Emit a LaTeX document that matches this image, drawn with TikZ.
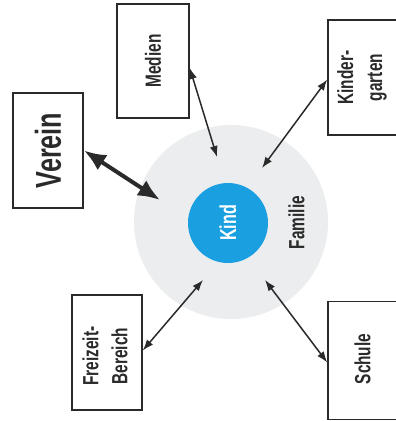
\documentclass[tikz,border=0pt]{standalone}
\usepackage{fontspec}
\newfontfamily\cnd[FakeStretch=0.7]{Liberation Sans}
\usetikzlibrary{arrows.meta}
\definecolor{famgray}{HTML}{EBEDEE}
\definecolor{kindblue}{HTML}{1AA0E0}
\definecolor{ink}{HTML}{2A2A2A}
\begin{document}
\begin{tikzpicture}[x=1pt,y=-1pt,
  boxnode/.style={draw=ink,line width=1.5pt,inner sep=0pt},
  lbl/.style={rotate=90,align=center,inner sep=0pt,text=ink,
    font=\cnd\bfseries\fontsize{22}{29}\selectfont},
  rel/.style={ink,line width=1.5pt,{Latex[length=11pt,width=8pt]}-{Latex[length=11pt,width=8pt]}},
  strongrel/.style={ink,line width=4pt,{Latex[length=22pt,width=18pt]}-{Latex[length=22pt,width=18pt]}}]
\useasboundingbox (0,0) rectangle (396,421);
\clip (0,0) rectangle (396,421);
\fill[white] (0,0) rectangle (396,421);

% family circle with the child in the middle
\node[circle,fill=famgray,minimum size=194pt,inner sep=0pt] (familie) at (231,222) {};
\node[circle,fill=kindblue,minimum size=80pt,inner sep=0pt] (kind) at (228,223) {};
\node[lbl,text=white,font=\cnd\bfseries\fontsize{23}{29}\selectfont] (kindT) at (kind) {Kind};
\node[lbl] (familieT) at (296.5,222.5) {Familie};

% surrounding boxes
\node[boxnode,line width=2pt,minimum width=70pt,minimum height=115pt] (verein) at (48,150.5) {};
\node[lbl,font=\cnd\bfseries\fontsize{36}{40}\selectfont] (vereinT) at (verein) {Verein};

\node[boxnode,minimum width=72pt,minimum height=114pt] (medien) at (153,61) {};
\node[lbl] (medienT) at (medien) {Medien};

\node[boxnode,minimum width=72pt,minimum height=115pt] (kiga) at (364,77.5) {};
\node[lbl] (kigaT) at (362,77.5) {Kinder-\\garten};

\node[boxnode,minimum width=70pt,minimum height=115pt] (freizeit) at (107,352.5) {};
\node[lbl] (freizeitT) at (105,356) {Freizeit-\\Bereich};

\node[boxnode,minimum width=72pt,minimum height=118pt] (schule) at (364,360.5) {};
\node[lbl] (schuleT) at (362.5,359) {Schule};

% inner ends of the relations
\coordinate (vIn) at (160,200);
\coordinate (mIn) at (217,157);
\coordinate (kIn) at (262,168);
\coordinate (fIn) at (203,280);
\coordinate (sIn) at (265,280);

\draw[strongrel] (verein.east) -- (vIn);
\draw[rel] ([yshift=-7pt]medien.east) -- (mIn);
\draw[rel] ([yshift=-2pt]kiga.west) -- (kIn);
\draw[rel] ([yshift=2pt]freizeit.east) -- (fIn);
\draw[rel] ([yshift=-2pt]schule.west) -- (sIn);
\end{tikzpicture}
\end{document}
